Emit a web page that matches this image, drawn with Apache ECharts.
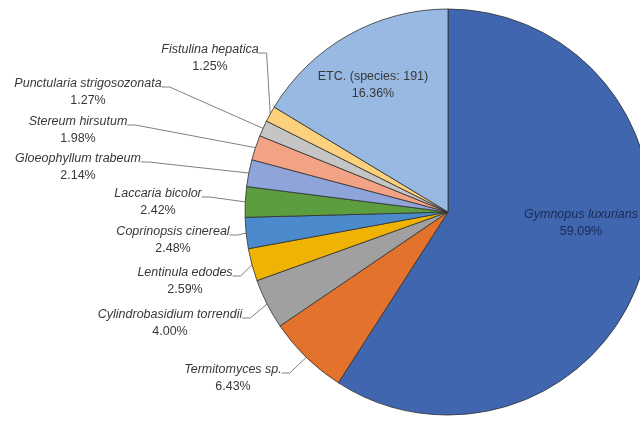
<!DOCTYPE html>
<html>
<head>
<meta charset="utf-8">
<script src="https://cdn.jsdelivr.net/npm/echarts@6/dist/echarts.min.js"></script>
<style>
  html, body { margin: 0; padding: 0; background: #ffffff; }
  #chart { width: 640px; height: 421px; }
</style>
</head>
<body>
<div id="chart"></div>
<script>
// Species share of reads, clockwise from 12 o'clock
const speciesNames = [
  'Gymnopus luxurians',
  'Termitomyces sp.',
  'Cylindrobasidium torrendii',
  'Lentinula edodes',
  'Coprinopsis cinereal',
  'Laccaria bicolor',
  'Gloeophyllum trabeum',
  'Stereum hirsutum',
  'Punctularia strigosozonata',
  'Fistulina hepatica',
  'ETC. (species: 191)'
];
const sharePercent = [59.09, 6.43, 4.00, 2.59, 2.48, 2.42, 2.14, 1.98, 1.27, 1.25, 16.36];
const italicName = [true, true, true, true, true, true, true, true, true, true, false];
const insideLabel = [true, false, false, false, false, false, false, false, false, false, true];

const sliceColors = [
  '#3f66ae', '#e2722c', '#a0a0a0', '#efb303', '#4b8bcb', '#5c9e3f',
  '#8fa4d9', '#f2a386', '#c5c5c5', '#fdd07c', '#98b9e2'
];

// Label anchors (layout, not data). Outside labels: centre of the name line,
// so the leader line meets the text at the species name. Inside labels: block centre.
const labelCentres = [
  [581, 223], [233, 370], [170, 315], [185, 273], [173, 232], [158, 194],
  [78, 159], [78, 122], [88, 84], [210, 50], [373, 85]
];

const LINE_H = 17;

const chart = echarts.init(document.getElementById('chart'), null, { renderer: 'canvas' });

const seriesData = speciesNames.map((name, i) => ({
  name: name,
  value: sharePercent[i],
  itemStyle: { color: sliceColors[i] },
  label: {
    position: insideLabel[i] ? 'inside' : 'outside',
    formatter: (p) => {
      const nameStyle = (italicName[i] ? 'ni' : 'nr') + (i === 0 ? 'd' : '');
      const pctStyle = i === 0 ? 'pd' : 'p';
      const body = '{' + nameStyle + '|' + p.name + '}\n{' + pctStyle + '|' + p.value.toFixed(2) + '%}';
      // a blank line on top keeps the outside label's middle on the name line
      return insideLabel[i] ? body : '{e| }\n' + body;
    }
  },
  labelLine: { show: !insideLabel[i] }
}));

const baseText = { fontFamily: '"Liberation Sans", Arial, sans-serif', fontSize: 12.5, lineHeight: LINE_H, color: '#383838', align: 'center' };

chart.setOption({
  animation: false,
  backgroundColor: '#ffffff',
  series: [{
    type: 'pie',
    center: [448, 212],
    radius: [0, 203],
    startAngle: 90,
    clockwise: true,
    avoidLabelOverlap: false,
    silent: true,
    itemStyle: { borderColor: '#303030', borderWidth: 0.8 },
    label: {
      show: true,
      rich: {
        e: { fontSize: 1, lineHeight: LINE_H, align: 'center' },
        ni: Object.assign({}, baseText, { fontStyle: 'italic' }),
        nr: Object.assign({}, baseText),
        p: Object.assign({}, baseText),
        nid: Object.assign({}, baseText, { fontStyle: 'italic', color: '#1b2a55' }),
        pd: Object.assign({}, baseText, { color: '#1b2a55' })
      }
    },
    labelLine: {
      show: true,
      length: 10,
      length2: 8,
      lineStyle: { color: '#808080', width: 1 }
    },
    labelLayout: (params) => {
      const c = labelCentres[params.dataIndex];
      return { x: c[0], y: c[1], align: 'center', verticalAlign: 'middle' };
    },
    data: seriesData
  }]
});
</script>
</body>
</html>
